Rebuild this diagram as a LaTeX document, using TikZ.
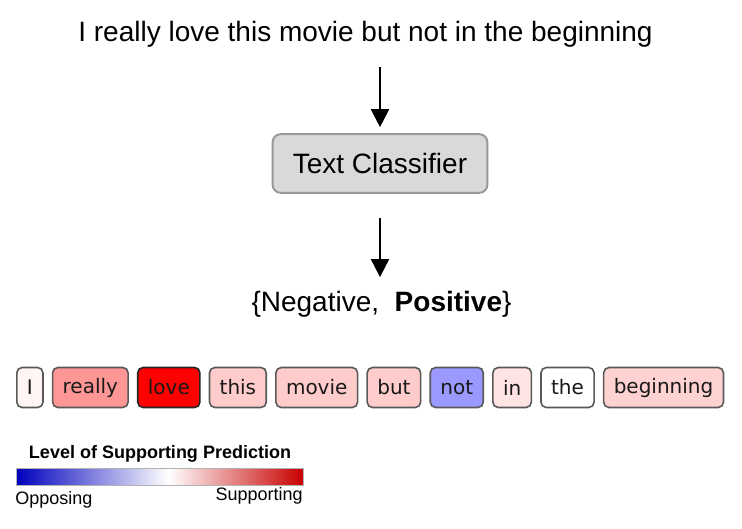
\documentclass[tikz,border=0pt]{standalone}
\usepackage{fontspec}
\setmainfont{Liberation Sans}
\newfontfamily\wordfont{DejaVu Sans}
\usetikzlibrary{positioning}
\usetikzlibrary{arrows.meta}

\definecolor{oppblue}{RGB}{0,0,190}
\definecolor{supred}{RGB}{200,0,0}
\pgfdeclarehorizontalshading{supportbar}{100bp}{color(0bp)=(oppblue); color(25bp)=(oppblue); color(51.5bp)=(white); color(75bp)=(supred); color(100bp)=(supred)}

\tikzset{
  bigtext/.style={inner sep=0pt, font=\fontsize{21}{25}\selectfont},
  flow/.style={line width=1.5pt, -{Triangle[length=13.5pt,width=13.5pt]}},
  classbox/.style={draw=black!40, line width=1.5pt, fill=black!15, rounded corners=6pt,
    minimum width=161pt, minimum height=44pt, inner sep=0pt, font=\fontsize{21}{25}\selectfont},
  wordbox/.style={draw=black!65, line width=1.2pt, rounded corners=4pt, text=black!90,
    minimum height=30pt, inner xsep=7.6pt, inner ysep=0pt, font=\wordfont\fontsize{15}{18}\selectfont},
  legendtext/.style={inner sep=0pt, font=\fontsize{13.5}{16}\selectfont}
}

\begin{document}
\begin{tikzpicture}[x=0.75pt, y=-0.75pt, node distance=6pt]
  \useasboundingbox (0,0) rectangle (742,528);

  % input, classifier, output
  \node [bigtext, anchor=base] (sentence) at (365.5,42) {I really love this movie but not in the beginning};
  \node [classbox] (clf) at (380,163.5) {Text Classifier};
  \node [bigtext, anchor=base] (labels) at (381.5,311) {\{Negative,\ \ \textbf{Positive}\}};
  \draw [flow, shorten <=14pt, shorten >=4.5pt] (clf.north |- sentence.south) -- (clf.north);
  \draw [flow, shorten <=18pt, shorten >=10pt] (clf.south) -- (clf.south |- labels.north);

  % word relevance
  \node [wordbox, fill={rgb,255:red,255;green,245;blue,245}, anchor=west] (w1) at (16,387.5) {I};
  \node [wordbox, fill={rgb,255:red,255;green,150;blue,150}, right=of w1] (w2) {really};
  \node [wordbox, fill={rgb,255:red,255;green,0;blue,0}, draw=black!85, right=of w2] (w3) {love};
  \node [wordbox, fill={rgb,255:red,255;green,204;blue,204}, right=of w3] (w4) {this};
  \node [wordbox, fill={rgb,255:red,255;green,204;blue,204}, right=of w4] (w5) {movie};
  \node [wordbox, fill={rgb,255:red,255;green,204;blue,204}, right=of w5] (w6) {but};
  \node [wordbox, fill={rgb,255:red,153;green,153;blue,255}, right=of w6] (w7) {not};
  \node [wordbox, fill={rgb,255:red,255;green,228;blue,228}, right=of w7] (w8) {in};
  \node [wordbox, fill=white, right=of w8] (w9) {the};
  \node [wordbox, fill={rgb,255:red,255;green,210;blue,210}, right=of w9] (w10) {beginning};

  % legend
  \node [legendtext, font=\bfseries\fontsize{13.5}{16}\selectfont, anchor=base] (legtitle) at (160,458) {Level of Supporting Prediction};
  \node [draw=black!30, line width=0.4pt, shading=supportbar, minimum width=215pt, minimum height=12.75pt,
    inner sep=0pt, anchor=north west] (bar) at (16,468) {};
  \node [legendtext, anchor=base west] (opp) at (15,504) {Opposing};
  \node [legendtext, anchor=base east] (sup) at (303,500) {Supporting};
\end{tikzpicture}
\end{document}
